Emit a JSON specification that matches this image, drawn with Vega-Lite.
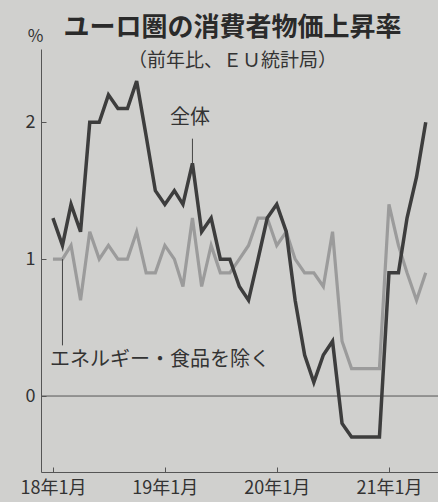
{
  "$schema": "https://vega.github.io/schema/vega-lite/v6.json",
  "autosize": {"type": "none"},
  "width": 397,
  "height": 423,
  "padding": {"left": 41, "top": 49, "right": 0, "bottom": 30},
  "background": "#d0d0ce",
  "config": {"view": {"stroke": null}, "font": "Noto Sans CJK JP"},
  "title": {
    "text": "ユーロ圏の消費者物価上昇率",
    "subtitle": "（前年比、ＥＵ統計局）",
    "anchor": "middle",
    "frame": "group",
    "dx": -7,
    "dy": 24,
    "offset": -20,
    "fontSize": 26,
    "fontWeight": "bold",
    "color": "#2a2a2a",
    "subtitleFontSize": 19,
    "subtitleColor": "#333333",
    "subtitlePadding": 11
  },
  "datasets": {
    "cpi": [
      {"date": "2018-01-01", "series": "全体", "value": 1.3},
      {"date": "2018-02-01", "series": "全体", "value": 1.1},
      {"date": "2018-03-01", "series": "全体", "value": 1.4},
      {"date": "2018-04-01", "series": "全体", "value": 1.2},
      {"date": "2018-05-01", "series": "全体", "value": 2.0},
      {"date": "2018-06-01", "series": "全体", "value": 2.0},
      {"date": "2018-07-01", "series": "全体", "value": 2.2},
      {"date": "2018-08-01", "series": "全体", "value": 2.1},
      {"date": "2018-09-01", "series": "全体", "value": 2.1},
      {"date": "2018-10-01", "series": "全体", "value": 2.3},
      {"date": "2018-11-01", "series": "全体", "value": 1.9},
      {"date": "2018-12-01", "series": "全体", "value": 1.5},
      {"date": "2019-01-01", "series": "全体", "value": 1.4},
      {"date": "2019-02-01", "series": "全体", "value": 1.5},
      {"date": "2019-03-01", "series": "全体", "value": 1.4},
      {"date": "2019-04-01", "series": "全体", "value": 1.7},
      {"date": "2019-05-01", "series": "全体", "value": 1.2},
      {"date": "2019-06-01", "series": "全体", "value": 1.3},
      {"date": "2019-07-01", "series": "全体", "value": 1.0},
      {"date": "2019-08-01", "series": "全体", "value": 1.0},
      {"date": "2019-09-01", "series": "全体", "value": 0.8},
      {"date": "2019-10-01", "series": "全体", "value": 0.7},
      {"date": "2019-11-01", "series": "全体", "value": 1.0},
      {"date": "2019-12-01", "series": "全体", "value": 1.3},
      {"date": "2020-01-01", "series": "全体", "value": 1.4},
      {"date": "2020-02-01", "series": "全体", "value": 1.2},
      {"date": "2020-03-01", "series": "全体", "value": 0.7},
      {"date": "2020-04-01", "series": "全体", "value": 0.3},
      {"date": "2020-05-01", "series": "全体", "value": 0.1},
      {"date": "2020-06-01", "series": "全体", "value": 0.3},
      {"date": "2020-07-01", "series": "全体", "value": 0.4},
      {"date": "2020-08-01", "series": "全体", "value": -0.2},
      {"date": "2020-09-01", "series": "全体", "value": -0.3},
      {"date": "2020-10-01", "series": "全体", "value": -0.3},
      {"date": "2020-11-01", "series": "全体", "value": -0.3},
      {"date": "2020-12-01", "series": "全体", "value": -0.3},
      {"date": "2021-01-01", "series": "全体", "value": 0.9},
      {"date": "2021-02-01", "series": "全体", "value": 0.9},
      {"date": "2021-03-01", "series": "全体", "value": 1.3},
      {"date": "2021-04-01", "series": "全体", "value": 1.6},
      {"date": "2021-05-01", "series": "全体", "value": 2.0},
      {"date": "2018-01-01", "series": "コア", "value": 1.0},
      {"date": "2018-02-01", "series": "コア", "value": 1.0},
      {"date": "2018-03-01", "series": "コア", "value": 1.1},
      {"date": "2018-04-01", "series": "コア", "value": 0.7},
      {"date": "2018-05-01", "series": "コア", "value": 1.2},
      {"date": "2018-06-01", "series": "コア", "value": 1.0},
      {"date": "2018-07-01", "series": "コア", "value": 1.1},
      {"date": "2018-08-01", "series": "コア", "value": 1.0},
      {"date": "2018-09-01", "series": "コア", "value": 1.0},
      {"date": "2018-10-01", "series": "コア", "value": 1.2},
      {"date": "2018-11-01", "series": "コア", "value": 0.9},
      {"date": "2018-12-01", "series": "コア", "value": 0.9},
      {"date": "2019-01-01", "series": "コア", "value": 1.1},
      {"date": "2019-02-01", "series": "コア", "value": 1.0},
      {"date": "2019-03-01", "series": "コア", "value": 0.8},
      {"date": "2019-04-01", "series": "コア", "value": 1.3},
      {"date": "2019-05-01", "series": "コア", "value": 0.8},
      {"date": "2019-06-01", "series": "コア", "value": 1.1},
      {"date": "2019-07-01", "series": "コア", "value": 0.9},
      {"date": "2019-08-01", "series": "コア", "value": 0.9},
      {"date": "2019-09-01", "series": "コア", "value": 1.0},
      {"date": "2019-10-01", "series": "コア", "value": 1.1},
      {"date": "2019-11-01", "series": "コア", "value": 1.3},
      {"date": "2019-12-01", "series": "コア", "value": 1.3},
      {"date": "2020-01-01", "series": "コア", "value": 1.1},
      {"date": "2020-02-01", "series": "コア", "value": 1.2},
      {"date": "2020-03-01", "series": "コア", "value": 1.0},
      {"date": "2020-04-01", "series": "コア", "value": 0.9},
      {"date": "2020-05-01", "series": "コア", "value": 0.9},
      {"date": "2020-06-01", "series": "コア", "value": 0.8},
      {"date": "2020-07-01", "series": "コア", "value": 1.2},
      {"date": "2020-08-01", "series": "コア", "value": 0.4},
      {"date": "2020-09-01", "series": "コア", "value": 0.2},
      {"date": "2020-10-01", "series": "コア", "value": 0.2},
      {"date": "2020-11-01", "series": "コア", "value": 0.2},
      {"date": "2020-12-01", "series": "コア", "value": 0.2},
      {"date": "2021-01-01", "series": "コア", "value": 1.4},
      {"date": "2021-02-01", "series": "コア", "value": 1.1},
      {"date": "2021-03-01", "series": "コア", "value": 0.9},
      {"date": "2021-04-01", "series": "コア", "value": 0.7},
      {"date": "2021-05-01", "series": "コア", "value": 0.9}
    ],
    "leaders": [
      {"date": "2019-04-01", "y": 1.88, "y2": 1.66},
      {"date": "2018-02-01", "y": 1.0, "y2": 0.37}
    ],
    "labels": [
      {"date": "2019-01-18", "y": 2.03, "label": "全体"},
      {"date": "2017-12-22", "y": 0.265, "label": "エネルギー・食品を除く"}
    ],
    "zero": [{"y": 0}]
  },
  "encoding": {
    "x": {
      "field": "date",
      "type": "temporal",
      "scale": {
        "type": "utc",
        "domain": [
          {"year": 2017, "month": 11, "date": 23, "utc": true},
          {"year": 2021, "month": 6, "date": 10, "utc": true}
        ]
      },
      "axis": {
        "title": null,
        "values": [
          {"year": 2018, "month": 1, "date": 1, "utc": true},
          {"year": 2019, "month": 1, "date": 1, "utc": true},
          {"year": 2020, "month": 1, "date": 1, "utc": true},
          {"year": 2021, "month": 1, "date": 1, "utc": true}
        ],
        "labelExpr": "utcFormat(datum.value, '%y') + '年1月'",
        "grid": false,
        "domainColor": "#555555",
        "tickColor": "#555555",
        "tickSize": -5,
        "labelPadding": 12,
        "labelFontSize": 18,
        "labelColor": "#333333",
        "labelFlush": false
      }
    },
    "y": {
      "field": "y",
      "type": "quantitative",
      "scale": {"domain": [-0.555, 2.535], "nice": false, "zero": false},
      "axis": {
        "values": [0, 1, 2],
        "grid": false,
        "title": "%",
        "titleAngle": 0,
        "titleX": -6,
        "titleY": -8,
        "titleAlign": "center",
        "titleBaseline": "alphabetic",
        "titleFontSize": 17,
        "titleFontWeight": "normal",
        "titleColor": "#333333",
        "domainColor": "#555555",
        "tickColor": "#555555",
        "tickSize": -5,
        "labelPadding": 11,
        "labelAlign": "right",
        "labelFontSize": 18,
        "labelColor": "#333333"
      }
    }
  },
  "layer": [
    {
      "data": {"name": "zero"},
      "mark": {"type": "rule", "color": "#555555", "strokeWidth": 1},
      "encoding": {"x": null, "y": {"field": "y", "type": "quantitative"}}
    },
    {
      "data": {"name": "cpi"},
      "transform": [{"filter": "datum.series === 'コア'"}],
      "mark": {"type": "line", "color": "#9b9b9b", "strokeWidth": 3.2, "strokeJoin": "miter"},
      "encoding": {"y": {"field": "value", "type": "quantitative"}}
    },
    {
      "data": {"name": "cpi"},
      "transform": [{"filter": "datum.series === '全体'"}],
      "mark": {"type": "line", "color": "#3d3d3d", "strokeWidth": 3.5, "strokeJoin": "miter"},
      "encoding": {"y": {"field": "value", "type": "quantitative"}}
    },
    {
      "data": {"name": "leaders"},
      "mark": {"type": "rule", "color": "#444444", "strokeWidth": 1},
      "encoding": {
        "y": {"field": "y", "type": "quantitative"},
        "y2": {"field": "y2"}
      }
    },
    {
      "data": {"name": "labels"},
      "mark": {"type": "text", "align": "left", "baseline": "middle", "fontSize": 20, "color": "#333333"},
      "encoding": {
        "y": {"field": "y", "type": "quantitative"},
        "text": {"field": "label"}
      }
    }
  ]
}
